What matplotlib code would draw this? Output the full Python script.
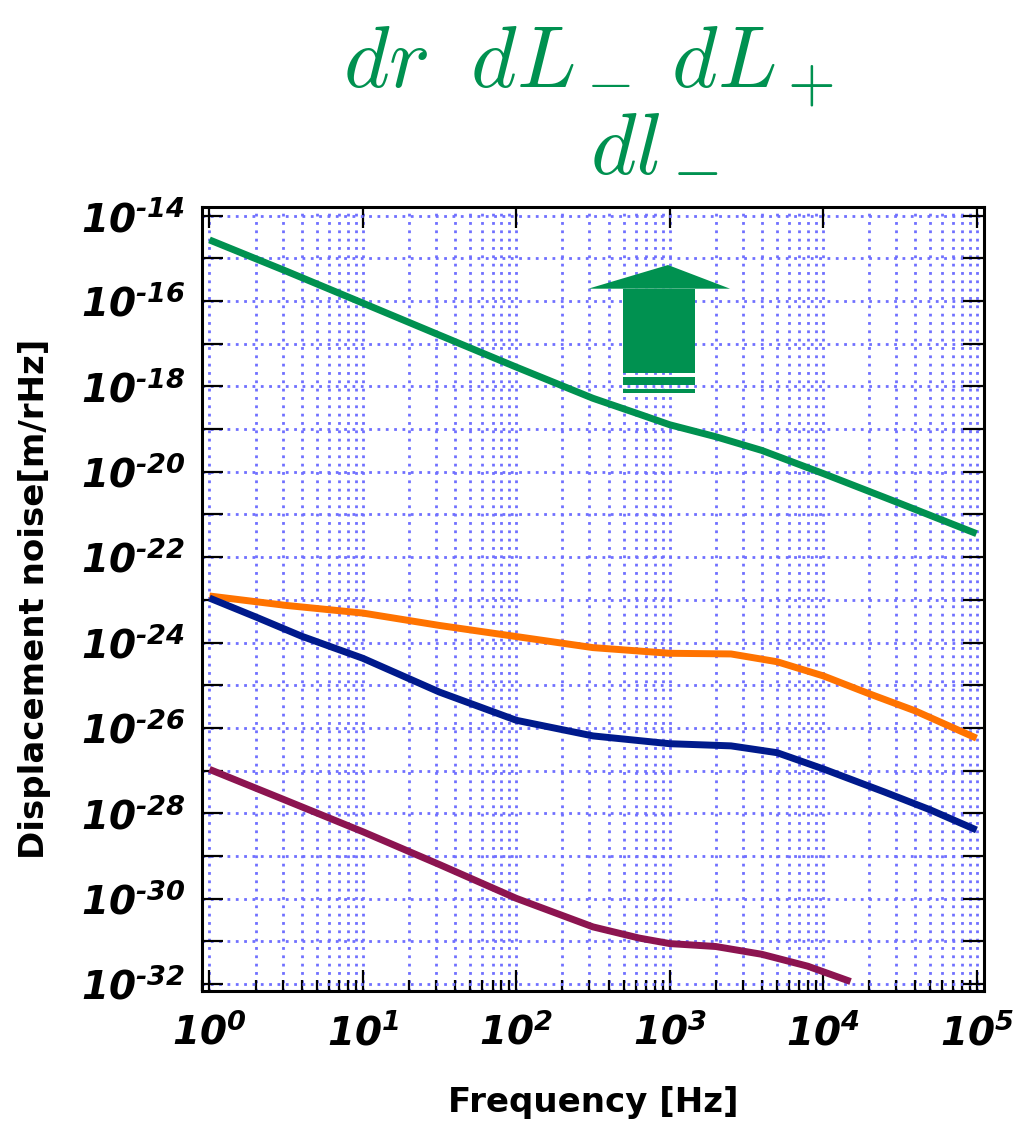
import numpy as np
import matplotlib
matplotlib.use("Agg")
import matplotlib.pyplot as plt
from matplotlib.patches import Polygon, Rectangle
from matplotlib.ticker import LogLocator, FuncFormatter, NullFormatter

plt.rcParams["font.family"] = ["DejaVu Sans"]
plt.rcParams["mathtext.fontset"] = "custom"
plt.rcParams["mathtext.rm"] = "DejaVu Sans:bold:italic"
plt.rcParams["mathtext.it"] = "DejaVu Sans:bold:italic"
plt.rcParams["mathtext.bf"] = "DejaVu Sans:bold:italic"

# noise curves
freq_green = [1, 3.16, 10, 31.6, 100, 316, 631, 1000, 2000, 3980, 1e4, 3.16e4, 1e5]
noise_green = [2.69e-15, 5.0e-16, 8.9e-17, 1.58e-17, 2.82e-18, 5.25e-19, 2.24e-19,
               1.26e-19, 6.6e-20, 3.16e-20, 9.1e-21, 1.82e-21, 3.55e-22]

freq_orange = [1, 3.16, 10, 31.6, 100, 316, 1000, 2510, 5010, 1e4, 2e4, 3.98e4, 1e5]
noise_orange = [1.23e-23, 7.4e-24, 4.9e-24, 2.51e-24, 1.38e-24, 7.6e-25, 5.6e-25,
                5.4e-25, 3.55e-25, 1.66e-25, 6.3e-26, 2.51e-26, 5.75e-27]

freq_blue = [1, 2, 3.98, 10, 31.6, 100, 316, 1000, 2510, 5010, 1e4, 2.51e4, 5.01e4, 1e5]
noise_blue = [1.10e-23, 3.98e-24, 1.41e-24, 4.27e-25, 6.9e-26, 1.51e-26, 6.5e-27,
              4.27e-27, 3.8e-27, 2.63e-27, 1.10e-27, 3.16e-28, 1.20e-28, 4.07e-29]

freq_maroon = [1, 3.16, 10, 31.6, 100, 316, 631, 1000, 2000, 3980, 7940, 1.51e4]
noise_maroon = [1.07e-27, 2.0e-28, 3.7e-29, 6.3e-30, 1.02e-30, 2.19e-31, 1.20e-31,
                8.9e-32, 7.6e-32, 5.0e-32, 2.63e-32, 1.15e-32]

GREEN = "#009150"
series = [
    (freq_green, noise_green, GREEN),
    (freq_orange, noise_orange, "#ff7300"),
    (freq_blue, noise_blue, "#001a8c"),
    (freq_maroon, noise_maroon, "#8c1450"),
]

fig = plt.figure(figsize=(10.21, 11.22), dpi=100)
ax = fig.add_axes([0.1978, 0.1168, 0.766, 0.6987])

for f, n, c in series:
    ax.plot(f, n, color=c, lw=5, solid_capstyle="butt", zorder=3)

ax.set_xscale("log")
ax.set_yscale("log")
ax.set_xlim(10 ** -0.049, 10 ** 5.049)
ax.set_ylim(10 ** -32.16, 10 ** -13.80)


def explabel(e):
    if e < 0:
        return r"$10^{\text{-}%d}$" % -e
    return r"$10^{%d}$" % e


ax.xaxis.set_major_locator(LogLocator(base=10, numticks=20))
ax.xaxis.set_minor_locator(LogLocator(base=10, subs=np.arange(2, 10), numticks=20))
ax.xaxis.set_minor_formatter(NullFormatter())
ax.xaxis.set_major_formatter(FuncFormatter(lambda v, p: explabel(int(round(np.log10(v))))))

ax.yaxis.set_major_locator(LogLocator(base=10, numticks=40))
ax.yaxis.set_minor_locator(LogLocator(base=10, subs=[], numticks=40))


def ylab(v, p):
    e = int(round(np.log10(v)))
    return explabel(e) if e % 2 == 0 else ""


ax.yaxis.set_major_formatter(FuncFormatter(ylab))

ax.tick_params(which="major", direction="in", length=15, width=1.6,
               labelsize=28, top=True, right=True)
ax.tick_params(axis="x", which="major", pad=16)
ax.tick_params(axis="y", which="major", pad=12)
ax.tick_params(axis="x", which="minor", direction="in", length=8, width=1.6,
               top=False, bottom=True)

grid_kw = dict(color="#7070ff", lw=2, linestyle=(0, (1, 2)))
ax.grid(True, which="major", axis="both", **grid_kw)
ax.grid(True, which="minor", axis="x", **grid_kw)
ax.set_axisbelow(True)

for s in ax.spines.values():
    s.set_linewidth(2.2)

ax.set_xlabel("Frequency [Hz]", fontsize=24.5, fontweight="bold")
ax.set_ylabel("Displacement noise[m/rHz]", fontsize=24.5, fontweight="bold")
ax.xaxis.set_label_coords(0.5, -0.121)
ax.yaxis.set_label_coords(-0.193, 0.5)

# big green arrow (axes fraction)
head = Polygon([[0.4940, 0.8958], [0.5959, 0.9260], [0.6752, 0.8958]],
               closed=True, transform=ax.transAxes, color=GREEN, lw=0, zorder=4)
shaft = Rectangle((0.5388, 0.7879), 0.0916, 0.1079, transform=ax.transAxes,
                  color=GREEN, lw=0, zorder=4)
bar1 = Rectangle((0.5388, 0.7730), 0.0916, 0.0106, transform=ax.transAxes,
                 color=GREEN, lw=0, zorder=4)
bar2 = Rectangle((0.5388, 0.7631), 0.0916, 0.0048, transform=ax.transAxes,
                 color=GREEN, lw=0, zorder=4)
for p in (head, shaft, bar1, bar2):
    ax.add_patch(p)

# title in math; second line split so its subscript is not cut off
fig.text(0.576, 0.979, r"$dr\;\;dL_-\;dL_+$", color=GREEN, fontsize=63,
         math_fontfamily="cm", ha="center", va="top", zorder=10)
fig.text(0.578, 0.8452, r"$dl$", color=GREEN, fontsize=63,
         math_fontfamily="cm", ha="left", va="baseline", zorder=10)
fig.text(0.658, 0.8325, r"$-$", color=GREEN, fontsize=46,
         math_fontfamily="cm", ha="left", va="baseline", zorder=10)

fig.savefig("out.png", dpi=100)
